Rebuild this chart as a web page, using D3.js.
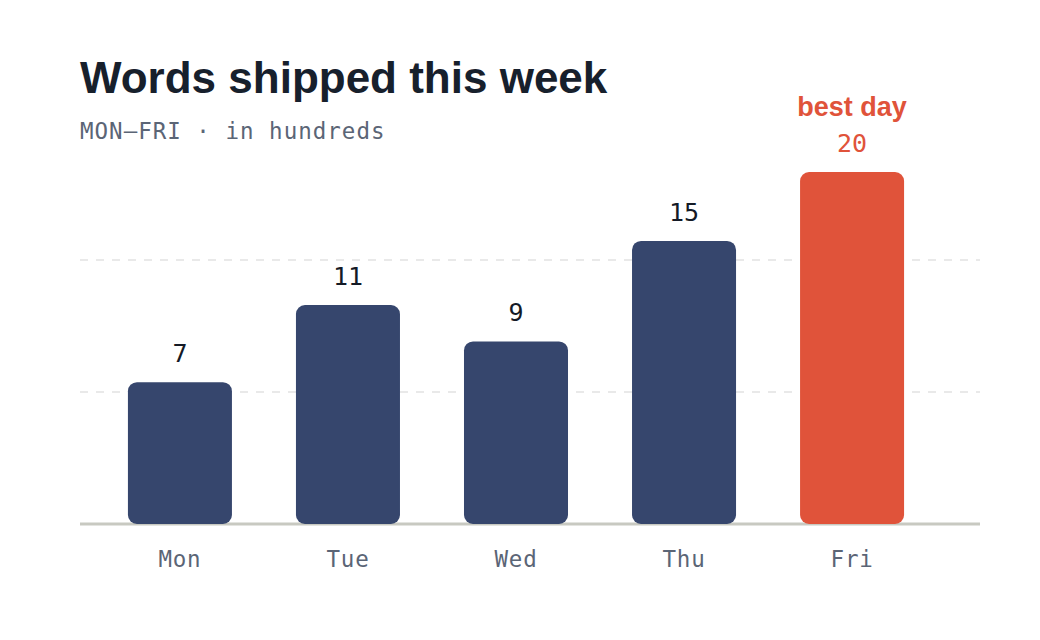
<!DOCTYPE html>
<html>
<head>
<meta charset="utf-8">
<script src="https://cdn.jsdelivr.net/npm/d3@7"></script>
<style>
  html, body { margin: 0; padding: 0; background: #ffffff; }
  svg { display: block; }
</style>
</head>
<body>
<svg id="chart" width="1040" height="640"></svg>
<script>
// ---- data ----
const days = ["Mon", "Tue", "Wed", "Thu", "Fri"];
const words = [7, 11, 9, 15, 20];
const gridTicks = [5, 10];
const titleText = "Words shipped this week";
const subtitleText = "MON\u2014FRI \u00b7 in hundreds";
const highlightText = "best day";

// ---- layout ----
const W = 1040, H = 640;
const baseY = 524, topY = 172;
const mono = "'DejaVu Sans Mono', monospace";
const sans = "'Liberation Sans', Arial, sans-serif";
const navy = "#36466d", red = "#e0533a";

const svg = d3.select("#chart");

const x = d3.scaleBand().domain(days).range([96, 936]).paddingInner(0.381).paddingOuter(0.19);
const y = d3.scaleSqrt().domain([2, 20]).range([baseY, topY]);
const gy = d3.scaleLinear().domain([0, 15]).range([baseY, baseY - 396]);

const best = d3.max(words);
const data = days.map((d, i) => ({ day: d, v: words[i] }));

// title
svg.append("text").attr("x", 80).attr("y", 93)
  .attr("font-family", sans).attr("font-weight", 700).attr("font-size", 44)
  .attr("fill", "#17202c").text(titleText);
svg.append("text").attr("x", 80).attr("y", 139)
  .attr("font-family", mono).attr("font-size", 22.5).attr("letter-spacing", 1)
  .attr("fill", "#5b6576").text(subtitleText);

// gridlines
svg.append("g").selectAll("line").data(gridTicks).join("line")
  .attr("x1", 80).attr("x2", 980)
  .attr("y1", d => gy(d)).attr("y2", d => gy(d))
  .attr("stroke", "#e2e2e2").attr("stroke-width", 1.5).attr("stroke-dasharray", "8,8");

// baseline
svg.append("line").attr("x1", 80).attr("x2", 980).attr("y1", baseY).attr("y2", baseY)
  .attr("stroke", "#c8c9c1").attr("stroke-width", 3);

// bars
svg.append("g").selectAll("rect").data(data).join("rect")
  .attr("x", d => x(d.day)).attr("width", x.bandwidth())
  .attr("y", d => y(d.v)).attr("height", d => baseY - y(d.v))
  .attr("rx", 9).attr("ry", 9)
  .attr("fill", d => d.v === best ? red : navy);

// value labels
svg.append("g").selectAll("text").data(data).join("text")
  .attr("x", d => x(d.day) + x.bandwidth() / 2).attr("y", d => y(d.v) - 20)
  .attr("text-anchor", "middle").attr("font-family", mono).attr("font-size", 25)
  .attr("fill", d => d.v === best ? red : "#141a26").text(d => d.v);

// best day label
const bd = data.find(d => d.v === best);
svg.append("text").attr("x", x(bd.day) + x.bandwidth() / 2).attr("y", y(bd.v) - 56)
  .attr("text-anchor", "middle").attr("font-family", sans).attr("font-weight", 700)
  .attr("font-size", 27).attr("fill", red).text(highlightText);

// x axis labels
const xAxis = d3.axisBottom(x).tickSize(0).tickPadding(0);
const gx = svg.append("g").attr("transform", `translate(0,${baseY})`).call(xAxis);
gx.select(".domain").remove();
gx.selectAll("text").attr("y", 43).attr("dy", null)
  .attr("font-family", mono).attr("font-size", 22.5).attr("letter-spacing", 0.8)
  .attr("fill", "#5b6576");
</script>
</body>
</html>
